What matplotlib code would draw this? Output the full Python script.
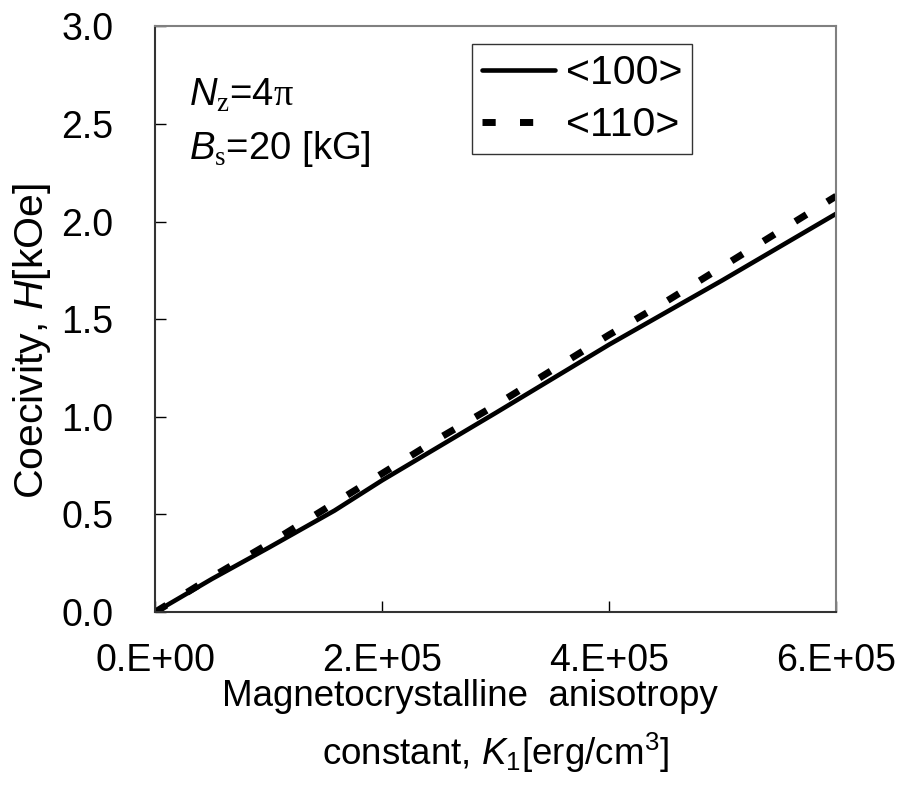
import matplotlib
matplotlib.use('Agg')
import matplotlib.pyplot as plt

plt.rcParams['font.family'] = ['Liberation Sans', 'DejaVu Sans']
plt.rcParams['mathtext.fontset'] = 'custom'
plt.rcParams['mathtext.rm'] = 'Liberation Sans'
plt.rcParams['mathtext.it'] = 'Liberation Sans:italic'
plt.rcParams['mathtext.sf'] = 'Liberation Serif'

# data
k1_100 = [0, 0.5e5, 1.0e5, 1.58e5, 2.0e5, 3.0e5, 4.0e5, 5.0e5, 6.0e5]
h_100 = [0, 0.17, 0.33, 0.52, 0.675, 1.02, 1.37, 1.70, 2.04]
k1_110 = [0, 0.5e5, 1.0e5, 1.5e5, 2.0e5, 2.5e5, 3.0e5, 3.5e5, 4.0e5, 4.5e5, 5.0e5, 5.5e5, 6.0e5]
h_110 = [0, 0.18, 0.35, 0.53, 0.71, 0.89, 1.06, 1.24, 1.42, 1.59, 1.77, 1.95, 2.13]

xticks = [0, 2e5, 4e5, 6e5]
xticklabels = ['0.E+00', '2.E+05', '4.E+05', '6.E+05']
yticks = [0, 0.5, 1.0, 1.5, 2.0, 2.5, 3.0]

fig = plt.figure(figsize=(9.02, 7.95), dpi=100)
ax = fig.add_axes([0.172, 0.230, 0.755, 0.737])

ax.plot(k1_100, h_100, color='black', lw=3.3, solid_capstyle='round', label='<100>')
ax.plot(k1_110, h_110, color='black', lw=5, dashes=(1.9, 3.5), dash_capstyle='butt', label='<110>')

ax.set_xlim(0, 6e5)
ax.set_ylim(0, 3.0)
ax.set_xticks(xticks)
ax.set_xticklabels(xticklabels)
ax.set_yticks(yticks)
ax.set_yticklabels(['%.1f' % v for v in yticks])
ax.tick_params(direction='in', length=8, width=1, labelsize=27, top=False, right=False)
ax.tick_params(axis='y', pad=30)
ax.tick_params(axis='x', pad=22)

for s in ['top', 'right']:
    ax.spines[s].set_color('#808080')
    ax.spines[s].set_linewidth(1.5)
for s in ['left', 'bottom']:
    ax.spines[s].set_color('#333333')
    ax.spines[s].set_linewidth(1.5)

ax.set_ylabel('Coecivity, $H$[kOe]', fontsize=29.5)
ax.yaxis.set_label_coords(-0.15, 0.462)
ax.set_xlabel('Magnetocrystalline  anisotropy     \nconstant, $K_1$[erg/cm$^3$]',
              fontsize=26.5, linespacing=1.5, labelpad=0)

ax.text(0.05, 0.882, r'$N_{\mathsf{z}}$=4$\mathsf{\pi}$', transform=ax.transAxes,
        fontsize=27.5, va='center', ha='left')
ax.text(0.05, 0.79, r'$B_{\mathsf{s}}$=20 [kG]', transform=ax.transAxes,
        fontsize=27.5, va='center', ha='left')

leg = ax.legend(loc='upper left', bbox_to_anchor=(0.465, 0.969), fontsize=29.5,
                frameon=True, fancybox=False, handlelength=1.8, handletextpad=0.25,
                labelspacing=0.34, borderpad=0.24, borderaxespad=0)
leg.get_frame().set_edgecolor('black')
leg.get_frame().set_linewidth(1.0)

fig.savefig('out.png', dpi=100)
